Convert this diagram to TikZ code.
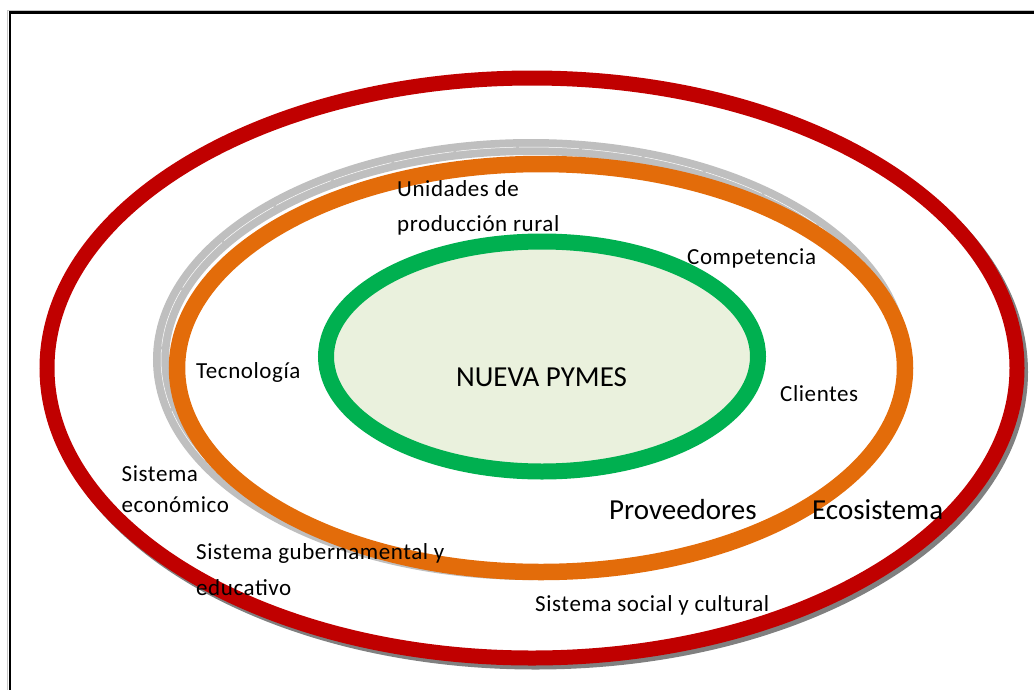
\documentclass[tikz,border=0pt]{standalone}
\usepackage{fontspec}
\setmainfont{Carlito}
\newfontfamily\spacedfont{Carlito}[LetterSpace=2.5]
\definecolor{ringred}{HTML}{C00000}
\definecolor{ringorange}{HTML}{E36C0A}
\definecolor{ringgreen}{HTML}{00B050}
\definecolor{ringgray}{HTML}{BFBFBF}
\definecolor{shadowgray}{HTML}{808080}
\definecolor{corefill}{HTML}{EAF1DD}
\tikzset{
  lbl/.style={font=\spacedfont\fontsize{23}{28}\selectfont, inner sep=0pt, anchor=base west, text=black},
  biglbl/.style={font=\fontsize{29}{34}\selectfont, inner sep=0pt, anchor=base west, text=black},
}
\begin{document}
\begin{tikzpicture}[x=1pt,y=-1pt]
\useasboundingbox (0,0) rectangle (1034,689);
\clip (0,0) rectangle (1034,689);
% frame
\draw[gray!45, line width=1pt] (7.8,700) -- (7.8,10.5) -- (1045,10.5);
\draw[black, line width=2.6pt] (9.8,700) -- (9.8,12.3) -- (1045,12.3);
% red ring shadow, visible only outside the ring
\begin{scope}[even odd rule]
  \clip (-10,-10) rectangle (1050,700) (532,368) ellipse [x radius=492, y radius=297];
  \draw[shadowgray, line width=15pt] (535.5,372) ellipse [x radius=485, y radius=290];
\end{scope}
\draw[ringred, line width=15pt] (532,368) ellipse [x radius=485, y radius=290];
% gray ring behind orange, visible only outside the orange ring
\begin{scope}[even odd rule]
  \clip (-10,-10) rectangle (1050,700) (541,368) ellipse [x radius=371.5, y radius=211.5];
  \draw[ringgray, line width=16pt] (531,359.5) ellipse [x radius=370, y radius=212.5];
  \draw[white, line width=0.5pt, dash pattern=on 60pt off 3pt] (531,359.5) ellipse [x radius=370, y radius=212.5];
\end{scope}
% orange ring
\draw[ringorange, line width=16.5pt] (541,368) ellipse [x radius=364, y radius=204];
% green core
\draw[ringgreen, line width=16pt, fill=corefill] (542,356.5) ellipse [x radius=216, y radius=115];
% labels
\node[biglbl, anchor=base] (core) at (541.5,386) {NUEVA PYMES};
\node[lbl] (uni1) at (397,196) {Unidades de};
\node[lbl] (uni2) at (397,231) {producción rural};
\node[lbl] (comp) at (687,264) {Competencia};
\node[lbl] (tec) at (196,378) {Tecnología};
\node[lbl] (cli) at (780,401) {Clientes};
\node[lbl] (eco1) at (121.5,481) {Sistema};
\node[lbl] (eco2) at (121.5,512.5) {económico};
\node[lbl] (gub1) at (196,559) {Sistema gubernamental y};
\node[lbl] (gub2) at (196,595) {educativo};
\node[biglbl] (prov) at (609,519) {Proveedores};
\node[biglbl] (ecos) at (812,519) {Ecosistema};
\node[lbl] (soc) at (535,611) {Sistema social y cultural};
\end{tikzpicture}
\end{document}
